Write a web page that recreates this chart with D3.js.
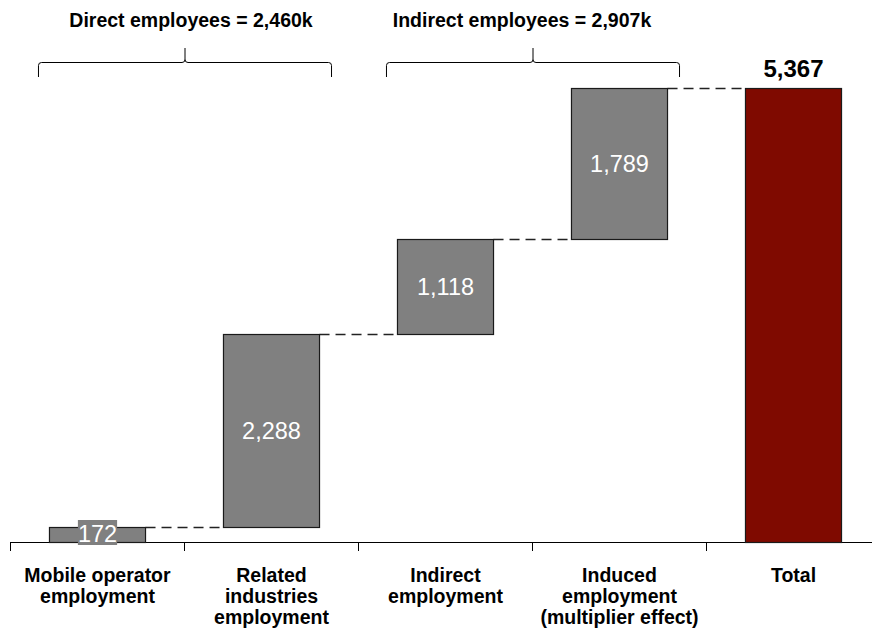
<!DOCTYPE html>
<html><head><meta charset="utf-8">
<script src="https://cdn.jsdelivr.net/npm/d3@7"></script>
<style>body{margin:0;background:#fff}svg{display:block;font-family:Arial,"Liberation Sans",sans-serif}</style>
</head><body><svg id="c" width="872" height="631"></svg>
<script>
const categories = ["Mobile operator\nemployment","Related\nindustries\nemployment","Indirect\nemployment","Induced\nemployment\n(multiplier effect)","Total"];
const values = [172, 2288, 1118, 1789, 5367];
const valueLabels = ["172","2,288","1,118","1,789","5,367"];
const isTotal = [false,false,false,false,true];
const groupLabels = ["Direct employees = 2,460k","Indirect employees = 2,907k"];
const groupSpans = [[0,1],[2,3]];
const groupLabelOffsets = [6,-11];

const svg = d3.select("#c");
const x = d3.scaleBand().domain(d3.range(categories.length)).range([10.5,880.5]).paddingInner(0.448).paddingOuter(0.224);
const y = d3.scaleLinear().domain([0,5367]).range([542,88]);
const bw = x.bandwidth();

// compute waterfall
let run = 0;
const bars = values.map((v,i)=>{
  if(isTotal[i]) return {i, y0:0, y1:v};
  const b = {i, y0:run, y1:run+v}; run += v; return b;
});

// axis
svg.append("line").attr("x1",10).attr("x2",872).attr("y1",542.5).attr("y2",542.5).attr("stroke","#000").attr("stroke-width",1);
const tickPos = d3.range(categories.length).map(i=>x(i)-x.step()*x.paddingInner()/2);
svg.selectAll(".tk").data(tickPos).join("line").attr("x1",d=>d).attr("x2",d=>d).attr("y1",542).attr("y2",551).attr("stroke","#000");

// connectors
for(let i=0;i<bars.length-1;i++){
  const top = bars[i].y1;
  svg.append("line").attr("x1",x(i)+bw).attr("x2",x(i+1)).attr("y1",Math.round(y(top))+0.5).attr("y2",Math.round(y(top))+0.5)
    .attr("stroke","#222").attr("stroke-width",1.3).attr("stroke-dasharray","10,6");
}

// bars
svg.selectAll(".bar").data(bars).join("rect")
  .attr("x",d=>x(d.i)).attr("width",bw)
  .attr("y",d=>Math.round(y(d.y1))+0.5).attr("height",d=>Math.round(y(d.y0))-Math.round(y(d.y1)))
  .attr("fill",d=>isTotal[d.i]?"#7f0a00":"#808080").attr("stroke","#1a1a1a").attr("stroke-width",1.2);

// value labels
bars.forEach(d=>{
  const cx = x(d.i)+bw/2;
  if(isTotal[d.i]){
    svg.append("text").attr("x",cx).attr("y",y(d.y1)-11).attr("text-anchor","middle").attr("font-size",24).attr("font-weight","bold").attr("fill","#000").text(valueLabels[d.i]);
  } else {
    const cy = (y(d.y0)+y(d.y1))/2;
    const t = svg.append("text").attr("x",cx).attr("y",cy).attr("dy","0.35em").attr("text-anchor","middle").attr("font-size",23.5).attr("fill","#fff").text(valueLabels[d.i]);
    if(y(d.y0)-y(d.y1) < 24){
      t.attr("dy",null).attr("y", y(d.y0));
      const bb = t.node().getBBox();
      svg.insert("rect", () => t.node()).attr("x",bb.x).attr("y",y(d.y0)-22).attr("width",bb.width).attr("height",25).attr("fill","#808080");
    }
  }
});

// category labels
categories.forEach((c,i)=>{
  const t = svg.append("text").attr("text-anchor","middle").attr("font-size",19.5).attr("font-weight","bold").attr("fill","#000");
  c.split("\n").forEach((ln,k)=>{
    t.append("tspan").attr("x",x(i)+bw/2).attr("y",582+k*21).text(ln);
  });
});

// brackets
groupSpans.forEach((s,g)=>{
  const x0 = x(s[0])-11, x1 = x(s[1])+bw+12, xm = (x0+x1)/2;
  const yb = 62.5, ye = 77, yt = 48, r = 3;
  const p = `M${x0},${ye} L${x0},${yb+r} Q${x0},${yb} ${x0+r},${yb} L${xm-r},${yb} Q${xm},${yb} ${xm},${yb-r} L${xm},${yt} M${xm},${yb-r} Q${xm},${yb} ${xm+r},${yb} L${x1-r},${yb} Q${x1},${yb} ${x1},${yb+r} L${x1},${ye}`;
  svg.append("path").attr("d",p).attr("fill","none").attr("stroke","#000").attr("stroke-width",1);
  svg.append("text").attr("x",xm+groupLabelOffsets[g]).attr("y",27).attr("text-anchor","middle").attr("font-size",19.5).attr("font-weight","bold").attr("fill","#000").text(groupLabels[g]);
});
</script></body></html>
